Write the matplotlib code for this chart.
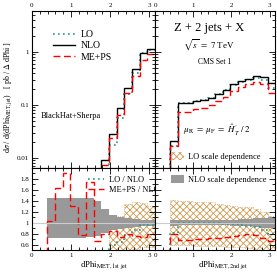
import numpy as np
import matplotlib
matplotlib.use("Agg")
import matplotlib.pyplot as plt
from matplotlib.lines import Line2D
from matplotlib.patches import Patch
from matplotlib.ticker import MultipleLocator, LogLocator, NullFormatter

plt.rcParams['font.family'] = ['Liberation Serif', 'DejaVu Serif']
plt.rcParams['mathtext.fontset'] = 'stix'
plt.rcParams['hatch.linewidth'] = 0.6

nan = np.nan
# 16 bins of dPhi between 0 and pi
bin_edges = np.linspace(0, np.pi, 17)

# dPhi(MET, 1st jet)
nlo_1 = [nan, nan, 2e-5, 4e-5, 8e-5, 1.5e-4, 3e-4, 6e-4, 2e-3,
         0.0092, 0.029, 0.086, 0.21, 0.47, 0.97, 1.12]
lo_ratio_1 = [0, 0, 0, 0, 0, 0, 0, 0, 0.2, 0.45, 0.6, 0.65, 0.78, 0.86, 0.97, 0.96]
meps_ratio_1 = [0, 0, 1.03, 1.63, 1.9, 1.3, 0.77, 1.75, 0.66, 0.8,
                0.84, 0.74, 0.8, 0.76, 0.74, 0.8]
nlo_band_lo_1 = [nan, nan, 0.72, 0.72, 0.72, 0.72, 0.72, 0.73, 0.76, 0.82,
                 0.86, 0.88, 0.9, 0.92, 0.93, 0.93]
nlo_band_hi_1 = [nan, nan, 1.45, 1.45, 1.45, 1.45, 1.45, 1.45, 1.4, 1.25,
                 1.14, 1.1, 1.08, 1.06, 1.05, 1.05]
lo_band_lo_1 = [nan, nan, nan, nan, nan, nan, nan, nan, 0.05, 0.15,
                0.35, 0.42, 0.48, 0.52, 0.56, 0.56]
lo_band_hi_1 = [nan, nan, nan, nan, nan, nan, nan, nan, 0.25, 0.45,
                1.0, 1.12, 1.35, 1.37, 1.36, 1.3]

# dPhi(MET, 2nd jet)
nlo_2 = [nan, nan, 0.021, 0.108, 0.108, 0.118, 0.125, 0.137, 0.163, 0.195,
         0.246, 0.284, 0.315, 0.354, 0.338, 0.26]
lo_ratio_2 = [0, 0, 0.82, 1.0, 1.0, 1.0, 0.99, 0.99, 0.99, 0.98,
              0.97, 0.96, 0.94, 0.92, 0.87, 0.8]
meps_ratio_2 = [0, 0, 0.8, 0.68, 0.69, 0.7, 0.71, 0.72, 0.72, 0.74,
                0.75, 0.77, 0.79, 0.78, 0.72, 0.66]
nlo_band_lo_2 = [nan, nan, 0.93, 0.95, 0.95, 0.95, 0.95, 0.95, 0.95, 0.95,
                 0.94, 0.94, 0.93, 0.92, 0.91, 0.9]
nlo_band_hi_2 = [nan, nan, 1.05, 1.04, 1.04, 1.04, 1.04, 1.04, 1.04, 1.05,
                 1.05, 1.06, 1.07, 1.08, 1.09, 1.1]
lo_band_lo_2 = [nan, nan, 0.6, 0.6, 0.6, 0.58, 0.58, 0.57, 0.57, 0.56,
                0.55, 0.55, 0.54, 0.52, 0.5, 0.48]
lo_band_hi_2 = [nan, nan, 1.42, 1.4, 1.4, 1.37, 1.37, 1.37, 1.35, 1.32,
                1.3, 1.28, 1.28, 1.25, 1.2, 1.13]

lo_col = '#1f9a8c'
meps_col = '#ff0000'
hatch_col = '#d09a50'
band_col = '#999999'

W, H = 277, 274
fig = plt.figure(figsize=(W / 100, H / 100), dpi=100)


def box(x0, y0, x1, y1):
    return [x0 / W, 1 - y1 / H, (x1 - x0) / W, (y1 - y0) / H]


def style(ax):
    ax.set_xlim(0, np.pi)
    ax.xaxis.set_major_locator(MultipleLocator(1))
    ax.xaxis.set_minor_locator(MultipleLocator(0.2))
    ax.tick_params(which='both', direction='in', top=True, right=True,
                   labelsize=5, pad=2, width=0.6)
    ax.tick_params(which='major', length=4)
    ax.tick_params(which='minor', length=2)
    for s in ax.spines.values():
        s.set_linewidth(0.8)


def top_panel(ax, nlo, lo_r, meps_r):
    nlo = np.nan_to_num(np.array(nlo), nan=1e-9)
    lo = nlo * np.array(lo_r)
    meps = nlo * np.array(meps_r)
    lo[lo <= 0] = 1e-9
    meps[meps <= 0] = 1e-9
    ax.stairs(lo, bin_edges, baseline=None, color=lo_col, ls=(0, (1, 2)), lw=1.2)
    ax.stairs(nlo, bin_edges, baseline=None, color='black', lw=1.0)
    ax.stairs(meps, bin_edges, baseline=None, color=meps_col, ls=(0, (5, 2.5)), lw=1.0)
    ax.set_yscale('log')
    ax.set_ylim(0.0065, 5.9)
    style(ax)
    ax.yaxis.set_minor_locator(LogLocator(subs=np.arange(2, 10)))
    ax.yaxis.set_minor_formatter(NullFormatter())
    ax.set_yticks([0.01, 0.1, 1])
    ax.set_yticklabels(['0.01', '0.1', '1'])
    ax.tick_params(labeltop=True, labelbottom=False)


def ratio_panel(ax, lo_r, meps_r, nb_lo, nb_hi, lb_lo, lb_hi):
    ax.axhline(1, color='#cccccc', lw=0.8)
    ok = ~np.isnan(np.array(lb_lo))
    i0 = np.argmax(ok)
    ax.stairs(np.array(lb_hi)[i0:], bin_edges[i0:], baseline=np.array(lb_lo)[i0:],
              fill=True, facecolor='none', edgecolor=hatch_col, hatch='xxxxx',
              lw=0.5, ls=':')
    ok = ~np.isnan(np.array(nb_lo))
    i0 = np.argmax(ok)
    ax.stairs(np.array(nb_hi)[i0:], bin_edges[i0:], baseline=np.array(nb_lo)[i0:],
              fill=True, facecolor=band_col, edgecolor='none')
    ax.stairs(lo_r, bin_edges, baseline=None, color=lo_col, ls=(0, (1, 2)), lw=1.2)
    ax.stairs(meps_r, bin_edges, baseline=None, color=meps_col, ls=(0, (5, 2.5)), lw=1.0)
    ax.set_ylim(0.5, 2.0)
    style(ax)
    ax.yaxis.set_minor_locator(MultipleLocator(0.1))
    ax.set_yticks([0.6, 0.8, 1.0, 1.2, 1.4, 1.6, 1.8])
    ax.set_yticklabels(['0.6', '0.8', '1', '1.2', '1.4', '1.6', '1.8'])


ax1 = fig.add_axes(box(32, 11, 155, 168))
ax2 = fig.add_axes(box(155, 11, 275, 168))
ax3 = fig.add_axes(box(32, 168, 155, 250))
ax4 = fig.add_axes(box(155, 168, 275, 250))

top_panel(ax1, nlo_1, lo_ratio_1, meps_ratio_1)
top_panel(ax2, nlo_2, lo_ratio_2, meps_ratio_2)
ax2.tick_params(labelleft=False)
ratio_panel(ax3, lo_ratio_1, meps_ratio_1, nlo_band_lo_1, nlo_band_hi_1,
            lo_band_lo_1, lo_band_hi_1)
ratio_panel(ax4, lo_ratio_2, meps_ratio_2, nlo_band_lo_2, nlo_band_hi_2,
            lo_band_lo_2, lo_band_hi_2)
ax4.tick_params(labelleft=False)

# legends
h_lo = Line2D([], [], color=lo_col, ls=(0, (1, 2)), lw=1.2)
h_nlo = Line2D([], [], color='black', lw=1.0)
h_meps = Line2D([], [], color=meps_col, ls=(0, (5, 2.5)), lw=1.0)
ax1.legend([h_lo, h_nlo, h_meps], ['LO', 'NLO', 'ME+PS'], loc='upper left',
           bbox_to_anchor=(0.13, 0.91), frameon=False, fontsize=7,
           handlelength=2.3, labelspacing=0.25, borderpad=0, handletextpad=0.6)
ax3.legend([h_lo, h_meps], ['LO / NLO', 'ME+PS / NLO'], loc='upper left',
           bbox_to_anchor=(0.42, 0.95), frameon=False, fontsize=6,
           handlelength=2.0, labelspacing=0.2, borderpad=0, handletextpad=0.5)
ax2.legend([Patch(facecolor='none', edgecolor=hatch_col, hatch='xxxxx', lw=0)],
           ['LO scale dependence'], loc='lower left', bbox_to_anchor=(0.1, 0.02),
           frameon=False, fontsize=6, handlelength=1.5, handleheight=1.2,
           borderpad=0, handletextpad=0.5)
ax4.legend([Patch(facecolor=band_col, edgecolor='none')],
           ['NLO scale dependence'], loc='upper left', bbox_to_anchor=(0.1, 0.97),
           frameon=False, fontsize=6, handlelength=1.5, handleheight=1.2,
           borderpad=0, handletextpad=0.5)

# annotations
ax1.text(0.07, 0.32, 'BlackHat+Sherpa', transform=ax1.transAxes, fontsize=6)
ax2.text(0.45, 0.87, 'Z + 2 jets + X', transform=ax2.transAxes, fontsize=9, ha='center')
ax2.text(0.45, 0.76, r'$\sqrt{s}\ =\ 7$ TeV', transform=ax2.transAxes, fontsize=6.5, ha='center')
ax2.text(0.5, 0.66, 'CMS Set 1', transform=ax2.transAxes, fontsize=5.5, ha='center')
ax2.text(0.52, 0.22, r'$\mu_{\rm R}\ =\ \mu_{\rm F}\ =\ \hat{H}_T^{\prime}\ /\ 2$',
         transform=ax2.transAxes, fontsize=6.5, ha='center')

fig.text(8 / W, 1 - 97 / H,
         r'd$\sigma$ / d(dPhi$_{\rm MET,jet}$)   [ pb / $\Delta$ dPhi ]',
         rotation=90, ha='center', va='center', fontsize=5.8)
fig.text(104 / W, 1 - 265 / H, r'dPhi$_{\rm MET,1st\ jet}$', ha='center',
         va='center', fontsize=6.3)
fig.text(223 / W, 1 - 265 / H, r'dPhi$_{\rm MET,2nd\ jet}$', ha='center',
         va='center', fontsize=6.3)

fig.savefig('out.png', dpi=100)
